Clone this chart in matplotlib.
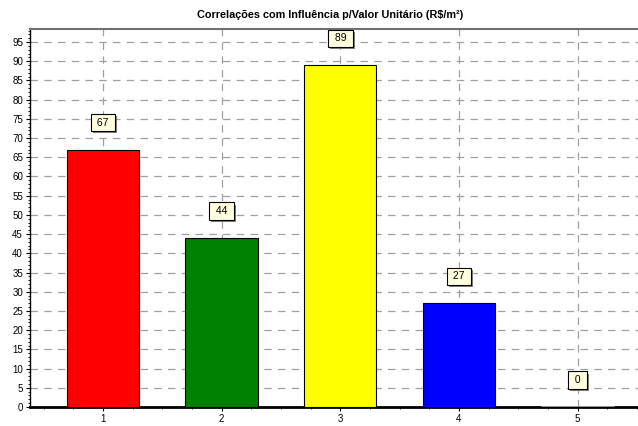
import matplotlib
matplotlib.use('Agg')
import matplotlib.pyplot as plt
from matplotlib.ticker import MultipleLocator
import matplotlib.patheffects as pe

plt.rcParams['font.family'] = ['Liberation Sans', 'DejaVu Sans']

categories = [1, 2, 3, 4, 5]
values = [67, 44, 89, 27, 0]
colors = ['#ff0000', '#008000', '#ffff00', '#0000ff', '#c0c0c0']
title = 'Correlações com Influência p/Valor Unitário (R$/m²)'

fig = plt.figure(figsize=(6.38, 4.26), dpi=100)
ax = fig.add_axes([0.047, 0.0446, 0.953, 0.8874])

ax.bar(categories, values, width=0.61, color=colors, edgecolor='black', linewidth=0.8, zorder=3)
# zero-height bar drawn as a flat gray line
ax.bar(categories[4], values[4], width=0.61, color='none', edgecolor='#a0a0a0', linewidth=2, zorder=4)

for x, v in zip(categories, values):
    t = ax.text(x, v + 7, ' %d ' % v, ha='center', va='center', fontsize=7.5, zorder=6,
                bbox=dict(boxstyle='square,pad=0.35', facecolor='#ffffe0',
                          edgecolor='black', linewidth=0.8))
    # small drop shadow under each value box
    t.get_bbox_patch().set_path_effects([
        pe.SimplePatchShadow(offset=(1.5, -1.5), shadow_rgbFace='#808080', alpha=1.0),
        pe.Normal()])

ax.set_xlim(0.384, 5.51)
ax.set_ylim(0, 98.4)
ax.set_xticks(categories)
ax.xaxis.set_minor_locator(MultipleLocator(0.25))
ax.yaxis.set_major_locator(MultipleLocator(5))
ax.yaxis.set_minor_locator(MultipleLocator(1))
ax.tick_params(axis='both', labelsize=7, length=3, width=0.8, pad=2)
ax.tick_params(axis='both', which='minor', length=1.5, width=0.6)

ax.grid(True, which='major', color='#a0a0a0', linestyle=(0, (6, 5)), linewidth=0.9, zorder=0)

ax.spines['top'].set_color('#707070')
ax.spines['top'].set_linewidth(1.5)
ax.spines['bottom'].set_linewidth(2)
ax.spines['left'].set_linewidth(1)
ax.spines['right'].set_visible(False)

fig.text(330 / 638, 0.965, title, ha='center', va='center', fontsize=7.8, fontweight='bold')

fig.savefig('out.png', dpi=100)
